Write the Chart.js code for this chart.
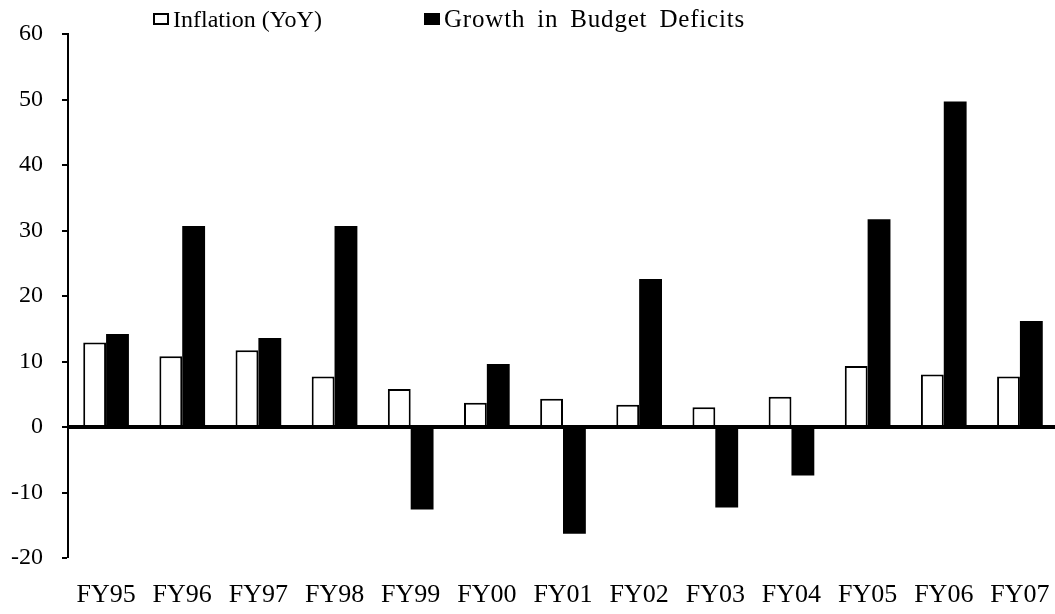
<!DOCTYPE html>
<html>
<head>
<meta charset="utf-8">
<script src="https://cdn.jsdelivr.net/npm/chart.js@4/dist/chart.umd.min.js"></script>
<style>
  html, body { margin: 0; padding: 0; background: #fff; overflow: hidden; }
  #wrap { position: relative; width: 1055px; height: 614px; overflow: hidden; }
  canvas { position: absolute; left: 0; top: 0; }
  .leg { position: absolute; top: 5px; font-family: "Liberation Serif", "Times New Roman", serif; font-size: 24px; color: #000; line-height: 28px; white-space: nowrap; }
  .box { position: absolute; width: 16px; height: 12px; box-sizing: border-box; top: 8px; }
</style>
</head>
<body>
<div id="wrap">
  <canvas id="c" width="1058" height="614"></canvas>
  <div class="leg" style="left:153px;"><span class="box" style="left:0;border:2px solid #000;background:#fff;"></span><span style="margin-left:20px;">Inflation (YoY)</span></div>
  <div class="leg" style="left:424px;font-size:25px;"><span class="box" style="left:0;background:#000;"></span><span style="margin-left:20px;letter-spacing:0.8px;word-spacing:5px;">Growth in Budget Deficits</span></div>
</div>
<script>
const categories = ["FY95","FY96","FY97","FY98","FY99","FY00","FY01","FY02","FY03","FY04","FY05","FY06","FY07"];
const inflation = [12.9, 10.8, 11.7, 7.7, 5.8, 3.7, 4.3, 3.4, 3.0, 4.6, 9.3, 8.0, 7.7];
const deficitGrowth = [14.2, 30.7, 13.6, 30.7, -12.6, 9.6, -16.3, 22.6, -12.3, -7.4, 31.7, 49.7, 16.2];
const seriesNames = ["Inflation (YoY)", "Growth in Budget Deficits"];
const yMin = -20, yMax = 60, yStep = 10;

const serif = "'Liberation Serif', 'Times New Roman', serif";

new Chart(document.getElementById('c'), {
  type: 'bar',
  data: {
    labels: categories,
    datasets: [
      { label: seriesNames[0], data: inflation, backgroundColor: '#fff', borderColor: '#000', borderWidth: 2,
        categoryPercentage: 0.6, barPercentage: 1.0 },
      { label: seriesNames[1], data: deficitGrowth, backgroundColor: '#000', borderColor: '#000', borderWidth: 0,
        categoryPercentage: 0.6, barPercentage: 1.0 }
    ]
  },
  options: {
    responsive: false,
    devicePixelRatio: 1,
    animation: false,
    layout: { padding: { top: 34, right: 0, bottom: 0, left: 0 } },
    plugins: { legend: { display: false }, tooltip: { enabled: false } },
    scales: {
      x: {
        grid: { display: false, drawTicks: false },
        border: { display: false },
        ticks: { color: '#000', font: { family: serif, size: 26 }, padding: 22, maxRotation: 0, autoSkip: false },
        afterFit: (s) => { s.height = 56; s.paddingLeft = 0; s.paddingRight = 0; }
      },
      y: {
        min: yMin, max: yMax,
        ticks: { stepSize: yStep, color: '#000', font: { family: serif, size: 24 }, padding: 19 },
        grid: {
          drawOnChartArea: true,
          color: '#000',
          lineWidth: (ctx) => (ctx.tick && ctx.tick.value === 0 ? 4 : 0),
          tickLength: 6, tickWidth: 2, tickColor: '#000'
        },
        border: { display: true, color: '#000', width: 2 },
        afterFit: (s) => { s.width = 68; s.paddingTop = 0; s.paddingBottom = 0; }
      }
    }
  }
});
</script>
</body>
</html>
